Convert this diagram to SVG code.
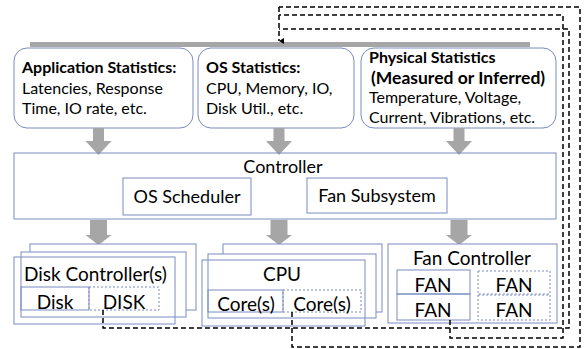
<svg xmlns="http://www.w3.org/2000/svg" width="588" height="349" viewBox="0 0 588 349">
<style>
text{font-family:Lato,"Open Sans",sans-serif;font-size:16px;fill:#000}
.b{font-weight:bold}
.m{font-size:18px}
.l{font-size:19px}
.box{fill:#fff;stroke:#7b8bc0;stroke-width:1}
.nf{fill:none;stroke:#7b8bc0;stroke-width:1}
.dbox{fill:none;stroke:#7b8bc0;stroke-width:1;stroke-dasharray:2 2}
.arr{fill:#a6a6a6}
.dl{fill:none;stroke:#000;stroke-width:1.5;stroke-dasharray:5 3}
.c{text-anchor:middle}
</style>
<defs>
<marker id="ah" markerWidth="6" markerHeight="6" refX="3" refY="5" orient="auto" markerUnits="userSpaceOnUse">
<path d="M0,0 L3,5 L6,0 Z" fill="#000"/>
</marker>
</defs>

<rect x="30" y="42" width="500" height="5" class="arr"/>

<g id="app">
<rect x="14" y="48" width="179" height="80" rx="13" class="box"/>
<text x="22" y="73" class="b">Application Statistics:</text>
<text x="22" y="94">Latencies, Response</text>
<text x="22" y="114">Time, IO rate, etc.</text>
</g>
<g id="os">
<rect x="198" y="48" width="156" height="80" rx="13" class="box"/>
<text x="206" y="73" class="b">OS Statistics:</text>
<text x="206" y="94">CPU, Memory, IO,</text>
<text x="206" y="114">Disk Util., etc.</text>
</g>
<g id="phys">
<rect x="361" y="48" width="195" height="80" rx="13" class="box"/>
<text x="369" y="63" class="b">Physical Statistics</text>
<text x="371" y="84" class="b" style="font-size:17.5px">(Measured or Inferred)</text>
<text x="369" y="103">Temperature, Voltage,</text>
<text x="369" y="123">Current, Vibrations, etc.</text>
</g>

<g id="arrows">
<path d="M93,128 H104 V141 H111.5 L98.5,155 L85.5,141 H93 Z" class="arr"/>
<path d="M273.5,128 H284.5 V141 H292 L279,155 L266,141 H273.5 Z" class="arr"/>
<path d="M453.5,128 H464.5 V141 H472 L459,155 L446,141 H453.5 Z" class="arr"/>
<path d="M90,220 H107 V235 H111.5 L98.5,245 L85.5,235 H90 Z" class="arr"/>
<path d="M270.5,220 H287.5 V235 H292 L279,245 L266,235 H270.5 Z" class="arr"/>
<path d="M450.5,220 H467.5 V235 H472 L459,245 L446,235 H450.5 Z" class="arr"/>
</g>

<g id="controller">
<rect x="14" y="153" width="542" height="66" class="box" fill-opacity="0"/>
<text x="283" y="173" class="c m">Controller</text>
</g>
<g id="sched">
<rect x="123" y="178" width="128" height="37" class="box"/>
<text x="187" y="203" class="c m">OS Scheduler</text>
</g>
<g id="fansub">
<rect x="307" y="178" width="140" height="35" class="box"/>
<text x="377" y="202" class="c m">Fan Subsystem</text>
</g>

<g id="diskctl">
<rect x="30" y="244" width="166" height="66" class="box"/>
<rect x="21" y="252" width="165" height="65" class="box"/>
<rect x="14" y="257" width="161" height="67" class="nf"/>
<text x="24" y="281" class="l">Disk Controller(s)</text>
<rect x="21" y="287" width="68" height="23" class="nf"/>
<text x="55" y="309" class="c l">Disk</text>
<rect x="89" y="287" width="70" height="23" class="dbox"/>
<text x="124" y="309" class="c l">DISK</text>
</g>

<g id="cpu">
<rect x="223" y="244" width="159" height="68" class="box"/>
<rect x="208" y="254" width="168" height="64" class="box"/>
<rect x="202" y="260" width="163" height="66" class="nf"/>
<text x="282" y="281" class="c l">CPU</text>
<rect x="208" y="290" width="75" height="22" class="nf"/>
<text x="246" y="311" class="c l">Core(s)</text>
<rect x="283" y="290" width="78" height="22" class="dbox"/>
<text x="322" y="311" class="c l">Core(s)</text>
</g>

<g id="fanctl">
<rect x="388" y="244" width="169" height="79" class="box"/>
<text x="472" y="265" class="c l">Fan Controller</text>
<rect x="397" y="270" width="73" height="24" class="nf"/>
<text x="433" y="292" class="c l">FAN</text>
<rect x="397" y="294" width="73" height="26" class="nf"/>
<text x="433" y="317" class="c l">FAN</text>
<rect x="478" y="271" width="72" height="23" class="dbox"/>
<text x="514" y="292" class="c l">FAN</text>
<rect x="478" y="295" width="72" height="25" class="dbox"/>
<text x="514" y="317" class="c l">FAN</text>
</g>

<g id="connectors">
<path d="M103,310 V328 H569 V29 H279" class="dl"/>
<path d="M292,312 V347 H580 V7 H279" class="dl"/>
<path d="M450,320 V338 H563 V15 H279" class="dl"/>
<path d="M279,7 V41" class="dl" marker-end="url(#ah)"/>
</g>
</svg>
